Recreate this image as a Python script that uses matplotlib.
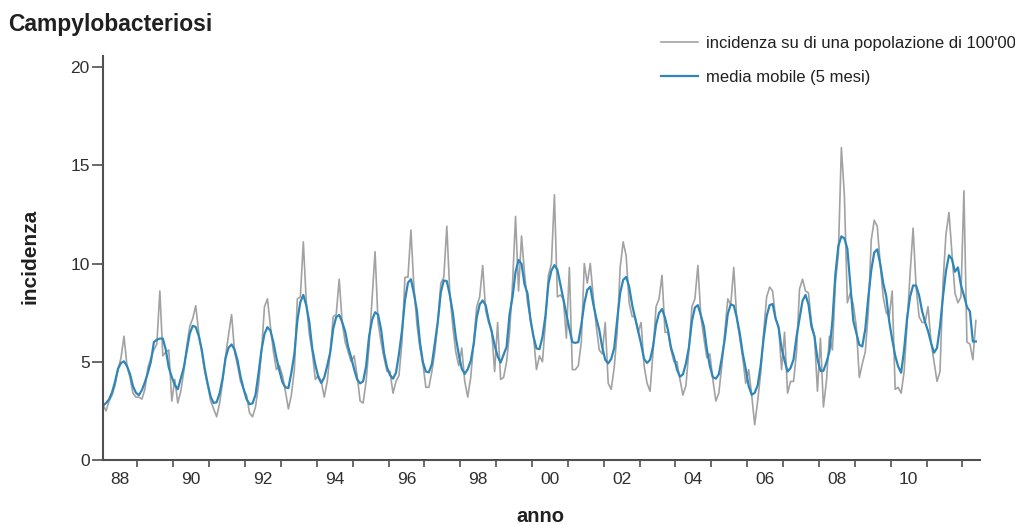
import matplotlib
matplotlib.use("Agg")
import matplotlib.pyplot as plt
import numpy as np
import pandas as pd

plt.rcParams['font.family'] = ['Liberation Sans', 'DejaVu Sans']

# incidenza mensile (casi su 100'000 abitanti), gen 1988 - mag 2012
anni = list(range(1988, 2013))
incidenza = [
    2.8, 2.5, 3.0, 3.3, 3.8, 4.6, 5.2, 6.3, 4.8, 4.2, 3.4, 3.2,        # 1988
    3.2, 3.1, 3.6, 4.7, 5.2, 5.6, 5.9, 8.6, 5.3, 5.5, 5.6, 3.0,        # 1989
    4.1, 2.9, 3.5, 4.5, 5.8, 6.8, 7.2, 7.85, 6.5, 5.5, 4.5, 3.8,       # 1990
    3.0, 2.6, 2.2, 2.9, 4.0, 5.3, 6.4, 7.4, 5.5, 4.8, 4.0, 3.6,        # 1991
    3.3, 2.4, 2.2, 2.7, 3.8, 5.5, 7.8, 8.2, 6.8, 5.5, 4.6, 4.8,        # 1992
    4.3, 3.5, 2.6, 3.3, 4.6, 8.2, 8.3, 11.1, 8.0, 6.4, 5.5, 4.1,       # 1993
    4.3, 4.0, 3.2, 4.0, 5.5, 7.3, 7.4, 9.2, 7.0, 6.0, 5.5, 5.0,        # 1994
    5.3, 4.3, 3.0, 2.9, 4.0, 5.8, 8.2, 10.6, 7.0, 6.0, 5.2, 4.5,       # 1995
    4.5, 3.4, 4.0, 4.3, 6.0, 9.3, 9.3, 11.7, 8.8, 6.9, 5.7, 4.9,       # 1996
    3.7, 3.7, 4.5, 5.5, 7.0, 9.0, 9.3, 11.9, 8.5, 6.8, 5.5, 4.8,       # 1997
    5.7, 4.0, 3.2, 4.2, 6.0, 7.8, 8.3, 9.9, 7.6, 7.0, 6.6, 4.5,        # 1998
    7.0, 4.1, 4.2, 5.0, 6.5, 9.0, 12.4, 8.6, 11.4, 9.5, 8.0, 7.2,      # 1999
    6.3, 4.6, 5.3, 5.0, 7.0, 9.4, 10.0, 13.5, 8.3, 8.4, 8.2, 6.2,      # 2000
    9.8, 4.6, 4.6, 4.8, 6.0, 10.0, 9.0, 10.0, 8.3, 6.8, 5.6, 5.4,      # 2001
    7.0, 3.9, 3.6, 4.7, 6.5, 9.8, 11.1, 10.4, 8.0, 7.3, 7.3, 6.5,      # 2002
    7.0, 4.8, 3.9, 3.5, 5.5, 7.8, 8.2, 9.4, 6.5, 6.5, 5.6, 5.0,        # 2003
    5.0, 4.1, 3.3, 3.8, 5.6, 7.8, 8.2, 9.9, 7.3, 6.2, 5.2, 5.4,        # 2004
    4.1, 3.0, 3.4, 4.8, 6.5, 8.2, 7.9, 9.8, 7.2, 6.2, 5.2, 3.9,        # 2005
    4.6, 3.3, 1.8, 3.0, 4.4, 6.5, 8.3, 8.8, 8.6, 7.2, 6.8, 4.6,        # 2006
    6.5, 3.4, 4.0, 4.0, 5.5, 8.7, 9.2, 8.6, 8.5, 7.0, 6.3, 3.5,        # 2007
    6.2, 2.7, 4.0, 6.3, 5.6, 9.0, 10.5, 15.9, 13.5, 8.0, 8.5, 7.9,     # 2008
    6.8, 4.2, 4.9, 5.5, 7.5, 11.2, 12.2, 11.9, 10.0, 8.3, 7.5, 7.3,    # 2009
    8.6, 3.6, 3.7, 3.4, 4.5, 7.0, 9.5, 11.8, 8.8, 7.3, 7.0, 7.0,       # 2010
    7.8, 6.0, 5.0, 4.0, 4.5, 9.0, 11.5, 12.6, 10.5, 8.5, 8.0, 8.3,     # 2011
    13.7, 6.0, 5.9, 5.1, 7.1,                                          # 2012
]
etichette_anni = ["88", "90", "92", "94", "96", "98", "00", "02", "04", "06", "08", "10"]

serie = pd.Series(incidenza)
tempo = 1988 + (np.arange(len(serie)) + 0.5) / 12
media = serie.rolling(5, center=True, min_periods=1).mean()

W, H = 1015, 525
fig = plt.figure(figsize=(W / 100, H / 100), dpi=100)
ax = fig.add_axes([103 / W, 1 - 460 / H, 877 / W, 404 / H])

ax.plot(tempo, serie, color='#a2a2a2', lw=1.2, label="incidenza su di una popolazione di 100'000")
ax.plot(tempo, media, color='#2f86b8', lw=1.6, label="media mobile (5 mesi)")

ax.set_xlim(1988.04, 2012.49)
ax.set_ylim(0, 20.56)

for s in ['top', 'right']:
    ax.spines[s].set_visible(False)
for s in ['left', 'bottom']:
    ax.spines[s].set_color('#505050')
    ax.spines[s].set_linewidth(1.5)

ax.set_yticks([0, 5, 10, 15, 20])
ax.tick_params(axis='y', length=8, width=1.2, color='#505050', pad=1.5,
               labelsize=12.5, labelcolor='#303030')

ax.set_xticks(np.arange(1989, 2013))
ax.set_xticklabels([])
ax.tick_params(axis='x', which='major', length=5, width=1.2, color='#505050')
ax.set_xticks([int("19" + e) + 0.5 if int(e) > 50 else int("20" + e) + 0.5 for e in etichette_anni], minor=True)
ax.set_xticklabels(etichette_anni, minor=True)
ax.tick_params(axis='x', which='minor', length=0, pad=9, labelsize=12.5, labelcolor='#303030')

fig.text(8 / W, 1 - 25 / H, "Campylobacteriosi", fontsize=16.5, fontweight='bold',
         color='#202020', va='center', ha='left')
fig.text(30 / W, 1 - 256 / H, "incidenza", fontsize=15, fontweight='bold',
         color='#202020', rotation=90, va='center', ha='center')
fig.text(540 / W, 1 - 517 / H, "anno", fontsize=14.5, fontweight='bold',
         color='#202020', va='center', ha='center')

fig.legend(loc='upper left', bbox_to_anchor=(661 / W, 1 - 36 / H), frameon=False,
           fontsize=12, handlelength=2.2, handletextpad=0.5, labelspacing=1.15,
           borderpad=0, borderaxespad=0, labelcolor='#202020')

fig.savefig("out.png", dpi=100)
